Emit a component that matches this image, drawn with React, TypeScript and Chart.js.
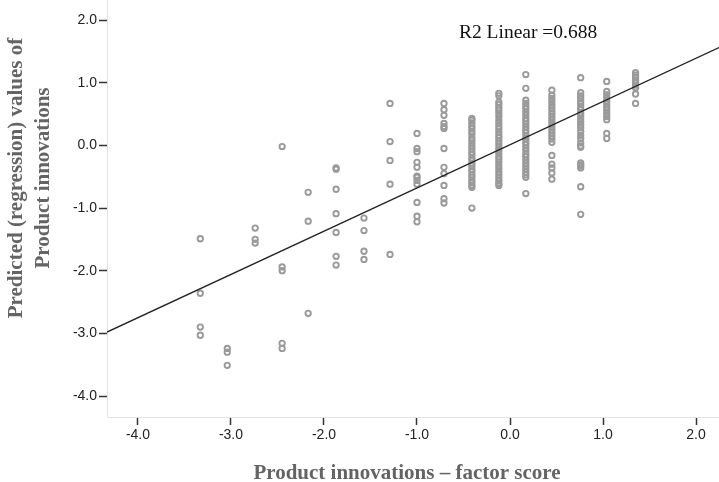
import React, { useEffect, useRef } from "react";
import { Chart, registerables } from "chart.js";

Chart.register(...registerables);

// ---- Data ----
const columnScores = [-3.33, -3.04, -2.74, -2.45, -2.17, -1.87, -1.57, -1.29, -1.0, -0.71, -0.41, -0.12, 0.17, 0.45, 0.76, 1.04, 1.35];

const predCol01 = [-1.49, -2.36, -2.9, -3.03];
const predCol02 = [-3.24, -3.3, -3.51];
const predCol03 = [-1.32, -1.5, -1.56];
const predCol04 = [-0.02, -1.94, -2.0, -3.16, -3.24];
const predCol05 = [-0.75, -1.21, -2.68];
const predCol06 = [-0.36, -0.38, -0.7, -1.09, -1.39, -1.77, -1.91];
const predCol07 = [-1.16, -1.36, -1.69, -1.82];
const predCol08 = [0.67, 0.06, -0.24, -0.62, -1.74];
const predCol09 = [0.19, -0.05, -0.1, -0.27, -0.35, -0.49, -0.51, -0.56, -0.62, -0.91, -1.13, -1.22];
const predCol10 = [0.67, 0.57, 0.48, 0.35, 0.3, 0.27, -0.05, -0.35, -0.45, -0.64, -0.85, -0.92];
const predCol11 = [0.43, 0.4, 0.36, 0.31, 0.27, 0.22, 0.18, 0.12, 0.08, 0.03, -0.02, -0.06, -0.11, -0.15, -0.2, -0.24, -0.29, -0.33, -0.38, -0.42, -0.47, -0.51, -0.56, -0.6, -0.64, -0.67, -1.0];
const predCol12 = [0.83, 0.79, 0.69, 0.65, 0.6, 0.56, 0.51, 0.46, 0.4, 0.35, 0.3, 0.26, 0.21, 0.16, 0.12, 0.07, 0.02, -0.03, -0.08, -0.13, -0.18, -0.22, -0.27, -0.32, -0.37, -0.42, -0.47, -0.52, -0.57, -0.61, -0.64];
const predCol13 = [1.13, 0.91, 0.72, 0.67, 0.62, 0.58, 0.53, 0.48, 0.43, 0.39, 0.34, 0.29, 0.24, 0.2, 0.15, 0.1, 0.05, 0.01, -0.04, -0.09, -0.14, -0.18, -0.23, -0.28, -0.33, -0.38, -0.43, -0.47, -0.51, -0.77];
const predCol14 = [0.88, 0.8, 0.75, 0.7, 0.65, 0.6, 0.55, 0.5, 0.45, 0.4, 0.35, 0.3, 0.25, 0.2, 0.15, 0.1, 0.05, -0.16, -0.3, -0.36, -0.44, -0.54];
const predCol15 = [1.08, 0.84, 0.79, 0.75, 0.7, 0.66, 0.61, 0.57, 0.52, 0.48, 0.43, 0.38, 0.33, 0.28, 0.22, 0.16, 0.11, 0.04, -0.01, -0.03, -0.28, -0.31, -0.33, -0.36, -0.66, -1.1];
const predCol16 = [1.02, 0.86, 0.81, 0.76, 0.71, 0.66, 0.61, 0.56, 0.51, 0.46, 0.41, 0.19, 0.11];
const predCol17 = [1.16, 1.12, 1.08, 1.04, 1.0, 0.96, 0.92, 0.82, 0.67];

const predictedByColumn = [
  predCol01, predCol02, predCol03, predCol04, predCol05, predCol06, predCol07, predCol08, predCol09,
  predCol10, predCol11, predCol12, predCol13, predCol14, predCol15, predCol16, predCol17,
];

// Linear fit (R2 = 0.688)
const fitIntercept = 0.01;
const fitSlope = 0.69;
const r2Label = "R2 Linear =0.688";

const xRange = [-4.333, 2.247];
const yRange = [-4.335, 2.32];

const xTitle = "Product innovations \u2013 factor score";
const yTitleLines = ["Predicted (regression) values of", "Product innovations"];

export default function App() {
  const ref = useRef<HTMLCanvasElement | null>(null);

  useEffect(() => {
    const canvas = ref.current;
    if (!canvas) return;

    const points: { x: number; y: number }[] = [];
    columnScores.forEach((x, i) => {
      predictedByColumn[i].forEach((y) => points.push({ x, y }));
    });

    const fitLine = [
      { x: xRange[0], y: fitIntercept + fitSlope * xRange[0] },
      { x: xRange[1], y: fitIntercept + fitSlope * xRange[1] },
    ];

    const textPlugin = {
      id: "textPlugin",
      afterDraw(chart: any) {
        const ctx = chart.ctx;
        const xs = chart.scales.x;
        const ys = chart.scales.y;
        ctx.save();
        // annotation
        ctx.fillStyle = "#111";
        ctx.font = '19.5px "Liberation Serif", "Times New Roman", serif';
        ctx.textAlign = "center";
        ctx.textBaseline = "alphabetic";
        ctx.fillText(r2Label, xs.getPixelForValue(0.194), ys.getPixelForValue(1.712));

        // x title
        ctx.fillStyle = "#646464";
        ctx.font = 'bold 21px "Liberation Serif", "Times New Roman", serif';
        ctx.fillText(xTitle, 407, 479);

        // y title
        ctx.translate(17, 178);
        ctx.rotate(-Math.PI / 2);
        ctx.textBaseline = "middle";
        ctx.fillText(yTitleLines[0], 0, 0);
        ctx.fillText(yTitleLines[1], 0, 27);
        ctx.restore();
      },
    };

    const tickFont = { family: '"Liberation Sans", Arial, sans-serif', size: 14 };

    const chart = new Chart(canvas, {
      type: "scatter",
      data: {
        datasets: [
          {
            type: "line",
            data: fitLine,
            borderColor: "#222",
            borderWidth: 1.3,
            pointRadius: 0,
            order: 0,
          } as any,
          {
            data: points,
            pointStyle: "circle",
            pointRadius: 2.7,
            pointBorderWidth: 1.9,
            borderColor: "#9a9a9a",
            backgroundColor: "rgba(0,0,0,0)",
            order: 1,
          },
        ],
      },
      options: {
        responsive: false,
        animation: false,
        layout: { padding: 0, autoPadding: false },
        plugins: {
          legend: { display: false },
          tooltip: { enabled: false },
        },
        scales: {
          x: {
            type: "linear",
            min: xRange[0],
            max: xRange[1],
            afterFit: (s: any) => {
              s.height = 65;
              s.paddingLeft = 0;
              s.paddingRight = 0;
            },
            border: { display: true, color: "#e2e2e2", width: 1 },
            grid: {
              display: true,
              drawOnChartArea: false,
              drawTicks: true,
              tickLength: 8,
              tickColor: "#333",
              tickWidth: 1.5,
            },
            ticks: {
              stepSize: 1,
              includeBounds: false,
              padding: 2,
              color: "#222",
              font: tickFont,
              maxRotation: 0,
              callback: (v: any) => Number(v).toFixed(1),
            },
          },
          y: {
            type: "linear",
            min: yRange[0],
            max: yRange[1],
            afterFit: (s: any) => {
              s.width = 107;
              s.paddingTop = 0;
              s.paddingBottom = 0;
            },
            border: { display: true, color: "#e2e2e2", width: 1 },
            grid: {
              display: true,
              drawOnChartArea: false,
              drawTicks: true,
              tickLength: 8,
              tickColor: "#333",
              tickWidth: 1.5,
            },
            ticks: {
              stepSize: 1,
              includeBounds: false,
              padding: 2,
              color: "#222",
              font: tickFont,
              callback: (v: any) => Number(v).toFixed(1),
            },
          },
        },
      },
      plugins: [textPlugin],
    });

    return () => chart.destroy();
  }, []);

  return (
    <div style={{ position: "absolute", left: 0, top: 0, width: 719, height: 482, background: "#fff" }}>
      <canvas ref={ref} width={719} height={482} style={{ width: 719, height: 482 }} />
    </div>
  );
}
